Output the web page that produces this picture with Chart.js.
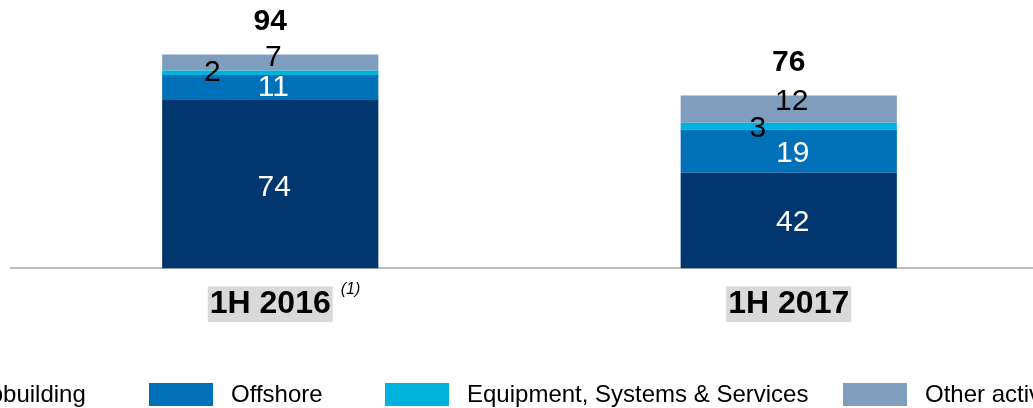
<!DOCTYPE html>
<html>
<head>
<meta charset="utf-8">
<script src="https://cdn.jsdelivr.net/npm/chart.js@4"></script>
<style>
    html, body { margin: 0; padding: 0; background: #fff; }
    #wrap { width: 1033px; height: 408px; overflow: hidden; position: relative; }
    #orderChart { position: absolute; left: 0; top: 0; }
</style>
</head>
<body>
<div id="wrap"><canvas id="orderChart" width="1048" height="408"></canvas></div>
<script>
// Order intake by business line, 1H 2016 vs 1H 2017
const periods = ["1H 2016", "1H 2017"];
const seriesNames = ["Shipbuilding", "Offshore", "Equipment, Systems & Services", "Other activities"];
const shipbuilding = [74, 42];
const offshore = [11, 19];
const equipment = [2, 3];
const otherActivities = [7, 12];
const footnotes = ["(1)", ""];

const colors = ["#02366f", "#0071b9", "#00b3dd", "#7f9ebe"];
const labelColors = ["#ffffff", "#ffffff", "#000000", "#000000"];
// nudges for the segment value labels [dx, dy] per dataset/period
const labelNudge = [
    [[4, 3], [4, 2]],
    [[3, 0], [4, 2]],
    [[-58, 0], [-31, 2]],
    [[3, -5], [3, -7]],
];
const legendBoxX = [-127, 149, 385, 843];
const FONT = "Liberation Sans, Arial, sans-serif";

const allSeries = [shipbuilding, offshore, equipment, otherActivities];
const totals = periods.map((_, i) => allSeries.reduce((s, arr) => s + arr[i], 0));

// values inside segments plus the bold totals above each stack
const valueLabels = {
    id: "valueLabels",
    afterDatasetsDraw(chart) {
        const ctx = chart.ctx;
        ctx.save();
        ctx.textAlign = "center";
        ctx.textBaseline = "middle";
        chart.data.datasets.forEach((ds, d) => {
            const meta = chart.getDatasetMeta(d);
            meta.data.forEach((bar, i) => {
                const [dx, dy] = labelNudge[d][i];
                ctx.font = "30px " + FONT;
                ctx.fillStyle = labelColors[d];
                ctx.fillText(String(ds.data[i]), bar.x + dx, (bar.y + bar.base) / 2 + dy);
            });
        });
        const topMeta = chart.getDatasetMeta(chart.data.datasets.length - 1);
        topMeta.data.forEach((bar, i) => {
            ctx.font = "bold 30px " + FONT;
            ctx.fillStyle = "#000";
            ctx.fillText(String(totals[i]), bar.x, bar.y - 33);
        });
        ctx.restore();
    },
};

// footnote marker next to the category label
const footnoteMarks = {
    id: "footnoteMarks",
    afterDraw(chart) {
        const ctx = chart.ctx;
        const xs = chart.scales.x;
        ctx.save();
        ctx.font = "bold 32px " + FONT;
        periods.forEach((p, i) => {
            if (!footnotes[i]) return;
            const half = ctx.measureText(p).width / 2;
            const x = xs.getPixelForValue(i) + half + 10;
            ctx.save();
            ctx.font = "italic 16px " + FONT;
            ctx.fillStyle = "#000";
            ctx.textAlign = "left";
            ctx.textBaseline = "middle";
            ctx.fillText(footnotes[i], x, chart.chartArea.bottom + 21);
            ctx.restore();
        });
        ctx.restore();
    },
};

// legend row along the bottom edge
const bottomLegend = {
    id: "bottomLegend",
    afterDraw(chart) {
        const ctx = chart.ctx;
        ctx.save();
        ctx.font = "24px " + FONT;
        ctx.textBaseline = "middle";
        ctx.textAlign = "left";
        seriesNames.forEach((name, i) => {
            const x = legendBoxX[i];
            ctx.fillStyle = colors[i];
            ctx.fillRect(x, 383, 64, 23);
            ctx.fillStyle = "#000";
            ctx.fillText(name, x + 82, 395);
        });
        ctx.restore();
    },
};

const ctx = document.getElementById("orderChart").getContext("2d");
new Chart(ctx, {
    type: "bar",
    data: {
        labels: periods,
        datasets: allSeries.map((arr, i) => ({
            label: seriesNames[i],
            data: arr,
            backgroundColor: colors[i],
            borderWidth: 0,
            barPercentage: 0.417,
            categoryPercentage: 1,
        })),
    },
    options: {
        responsive: false,
        animation: false,
        layout: { padding: { left: 11, right: 0, top: 0, bottom: 68 } },
        plugins: {
            legend: { display: false },
            tooltip: { enabled: false },
        },
        scales: {
            x: {
                stacked: true,
                grid: { display: false, drawTicks: false },
                border: { display: true, color: "#bdbdbd", width: 2 },
                ticks: {
                    color: "#000",
                    padding: 19,
                    font: { family: FONT, size: 32, weight: "bold", lineHeight: 1.05 },
                    showLabelBackdrop: true,
                    backdropColor: "#d9d9d9",
                    backdropPadding: { left: 2, right: 2, top: 1, bottom: 1 },
                },
            },
            y: {
                stacked: true,
                display: false,
                min: 0,
                max: 118,
            },
        },
    },
    plugins: [valueLabels, footnoteMarks, bottomLegend],
});
</script>
</body>
</html>
